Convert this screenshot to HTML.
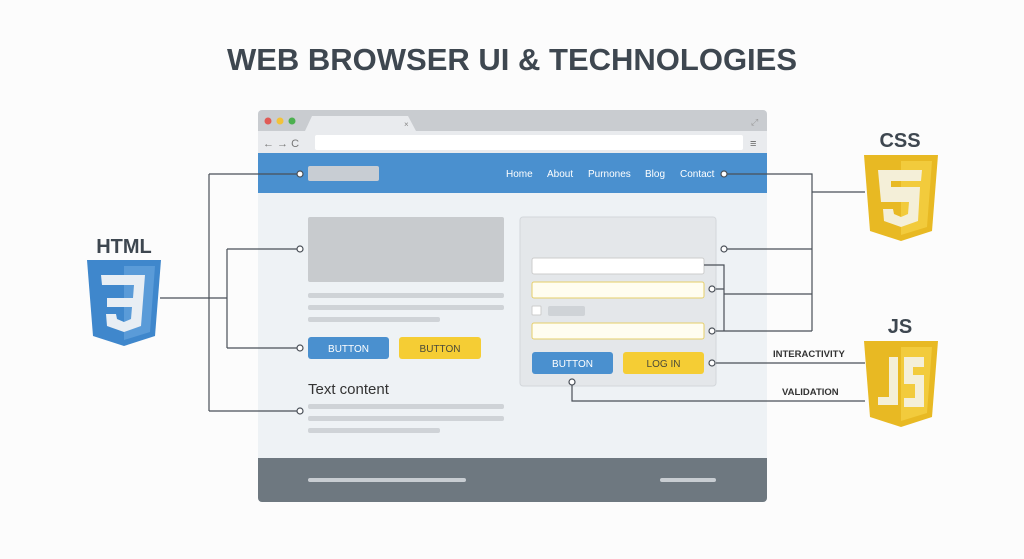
<!DOCTYPE html>
<html><head><meta charset="utf-8"><style>
html,body{margin:0;padding:0;background:#fff;}
svg{display:block;font-family:"Liberation Sans",sans-serif;}
</style></head><body>
<svg width="1024" height="559" viewBox="0 0 1024 559" xmlns="http://www.w3.org/2000/svg">
<rect width="1024" height="559" fill="#fcfcfc"/>
<text x="512" y="70" text-anchor="middle" font-size="31" font-weight="bold" fill="#3e4750">WEB BROWSER UI &amp; TECHNOLOGIES</text>

<!-- browser -->
<rect x="258" y="110" width="509" height="392" rx="4" fill="#eef2f5"/>
<path d="M262 110 H763 a4 4 0 0 1 4 4 V131 H258 V114 a4 4 0 0 1 4-4z" fill="#c9ccd0"/>
<path d="M305 131 L312 116 H408 L416 131z" fill="#e9ebee"/>
<text x="404" y="127" font-size="8" fill="#888">×</text>
<circle cx="268" cy="121" r="3.5" fill="#e05a55"/>
<circle cx="280" cy="121" r="3.5" fill="#f2c23a"/>
<circle cx="292" cy="121" r="3.5" fill="#4cb04f"/>
<text x="751" y="125" font-size="9" fill="#999">⤢</text>
<rect x="258" y="131" width="509" height="22" fill="#e9ebee"/>
<text x="263" y="147" font-size="11" fill="#777">← → C</text>
<rect x="315" y="135" width="428" height="15" rx="2" fill="#fff"/>
<text x="750" y="147" font-size="11" fill="#666">≡</text>
<rect x="258" y="153" width="509" height="40" fill="#4a90cf"/>
<rect x="308" y="166" width="71" height="15" rx="2" fill="#c8cdd3"/>
<g font-size="10" fill="#fff">
<text x="506" y="177">Home</text><text x="547" y="177">About</text><text x="588" y="177">Purnones</text><text x="645" y="177">Blog</text><text x="680" y="177">Contact</text>
</g>
<!-- left content -->
<rect x="308" y="217" width="196" height="65" rx="2" fill="#c8cbce"/>
<rect x="308" y="293" width="196" height="5" rx="2" fill="#cfd3d7"/>
<rect x="308" y="305" width="196" height="5" rx="2" fill="#cfd3d7"/>
<rect x="308" y="317" width="132" height="5" rx="2" fill="#cfd3d7"/>
<rect x="308" y="337" width="81" height="22" rx="3" fill="#4a90cf"/>
<text x="348.5" y="352" text-anchor="middle" font-size="10" fill="#fff">BUTTON</text>
<rect x="399" y="337" width="82" height="22" rx="3" fill="#f5cd34"/>
<text x="440" y="352" text-anchor="middle" font-size="10" fill="#4a4a3a">BUTTON</text>
<text x="308" y="394" font-size="15" fill="#333">Text content</text>
<rect x="308" y="404" width="196" height="5" rx="2" fill="#cfd3d7"/>
<rect x="308" y="416" width="196" height="5" rx="2" fill="#cfd3d7"/>
<rect x="308" y="428" width="132" height="5" rx="2" fill="#cfd3d7"/>
<!-- right panel -->
<rect x="520" y="217" width="196" height="169" rx="3" fill="#e4e7ea" stroke="#d3d7db"/>
<rect x="532" y="258" width="172" height="16" rx="2" fill="#fff" stroke="#ccc"/>
<rect x="532" y="282" width="172" height="16" rx="2" fill="#fffdf0" stroke="#e6cf6a"/>
<rect x="532" y="306" width="9" height="9" rx="1" fill="#fff" stroke="#ccc"/>
<rect x="548" y="306" width="37" height="10" rx="2" fill="#cfd3d7"/>
<rect x="532" y="323" width="172" height="16" rx="2" fill="#fffdf0" stroke="#e6cf6a"/>
<rect x="532" y="352" width="81" height="22" rx="3" fill="#4a90cf"/>
<text x="572.5" y="367" text-anchor="middle" font-size="10" fill="#fff">BUTTON</text>
<rect x="623" y="352" width="81" height="22" rx="3" fill="#f5cd34"/>
<text x="663.5" y="367" text-anchor="middle" font-size="10" fill="#4a4a3a">LOG IN</text>
<!-- footer -->
<path d="M258 458 H767 V498 a4 4 0 0 1-4 4 H262 a4 4 0 0 1-4-4z" fill="#6e7880"/>
<rect x="308" y="478" width="158" height="4" rx="2" fill="#c8cdd2"/>
<rect x="660" y="478" width="56" height="4" rx="2" fill="#c8cdd2"/>

<!-- connectors -->
<g stroke="#4a5058" stroke-width="1.2" fill="none">
<path d="M160 298 H227 M209 174 V411 M227 249 V348 M209 174 H297 M227 249 H297 M227 348 H297 M209 411 H297"/>
<path d="M727 174 H812 V331 M812 192 H865 M727 249 H812 M704 265 H724 V331 M716 289 H724 M724 294 H812 M716 331 H812 M716 363 H865 M572 385 V401 H865"/>
</g>
<g stroke="#4a5058" stroke-width="1.2" fill="#fff">
<circle cx="300" cy="174" r="3"/><circle cx="300" cy="249" r="3"/><circle cx="300" cy="348" r="3"/><circle cx="300" cy="411" r="3"/>
<circle cx="724" cy="174" r="3"/><circle cx="724" cy="249" r="3"/><circle cx="712" cy="289" r="3"/><circle cx="712" cy="331" r="3"/><circle cx="712" cy="363" r="3"/><circle cx="572" cy="382" r="3"/>
</g>
<g font-size="9.5" fill="#333" font-weight="bold">
<text x="773" y="357">INTERACTIVITY</text>
<text x="782" y="395">VALIDATION</text>
</g>

<!-- HTML shield -->
<text x="124" y="253" text-anchor="middle" font-size="20" font-weight="bold" fill="#3e4750">HTML</text>
<g transform="translate(87,260)">
<path d="M0 0 H74 L68 76 L37 86 L6 76z" fill="#3f87cc"/>
<path d="M37 6 H68 L63 72 L37 80z" fill="#5a9bd8"/>
<path d="M14 15 H58 L54 66 L37 72 L20 66 L19 54 H29 L30 59 L37 62 L44 59 L45 47 H20 V38 H46 L47 25 H15z" fill="#e8eef4"/>
</g>
<!-- CSS shield -->
<text x="900" y="147" text-anchor="middle" font-size="20" font-weight="bold" fill="#3e4750">CSS</text>
<g transform="translate(864,155)">
<path d="M0 0 H74 L68 76 L37 86 L6 76z" fill="#e8b923"/>
<path d="M37 6 H68 L63 72 L37 80z" fill="#f2cb3c"/>
<path d="M14 15 H58 L57 26 H27 L27 32 H56 L54 66 L37 72 L20 66 L19 54 H29 L30 59 L37 62 L44 59 L45 47 H17z" fill="#f4efd8"/>
</g>
<!-- JS shield -->
<text x="900" y="333" text-anchor="middle" font-size="20" font-weight="bold" fill="#3e4750">JS</text>
<g transform="translate(864,341)">
<path d="M0 0 H74 L68 76 L37 86 L6 76z" fill="#e8b923"/>
<path d="M37 6 H68 L63 72 L37 80z" fill="#f2cb3c"/>
<path d="M25 16 H34 V64 H14 V56 H25z" fill="#f4efd8"/>
<path d="M40 16 H60 V26 H49 V34 H60 V66 H40 V57 H51 V43 H40z" fill="#f4efd8"/>
</g>
</svg>
</body></html>
